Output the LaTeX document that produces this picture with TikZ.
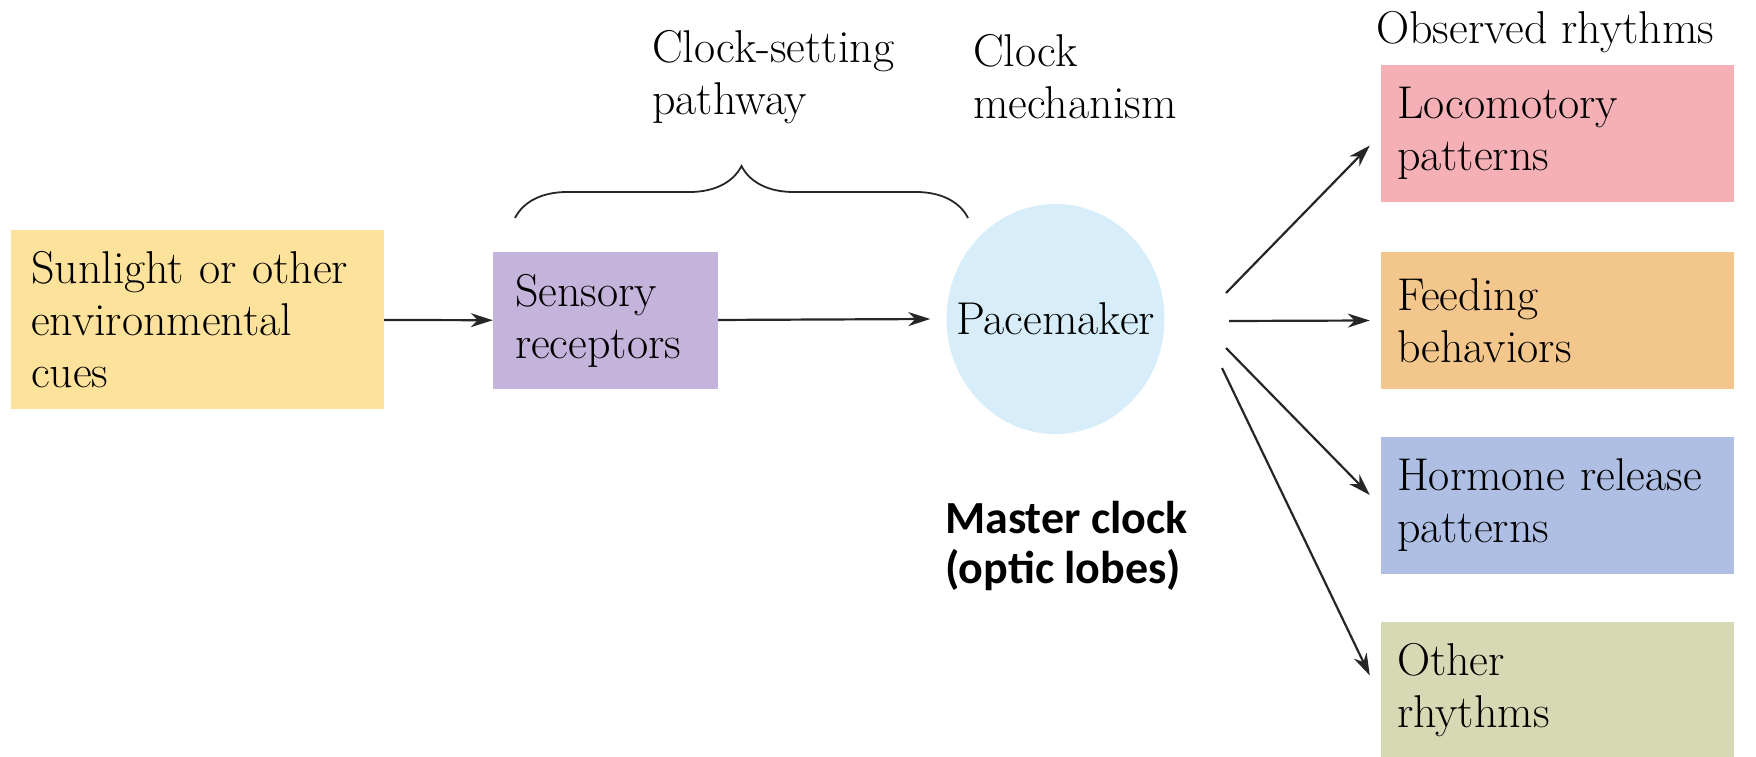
\documentclass[tikz,border=0pt]{standalone}
\usepackage{fontspec}
\newfontfamily\mcfont{Carlito}
\usetikzlibrary{arrows.meta,shapes.geometric,decorations.pathreplacing}
\definecolor{cueyel}{HTML}{FDE29C}
\definecolor{senpur}{HTML}{C4B3DA}
\definecolor{pacblu}{HTML}{D7EDFA}
\definecolor{rhypink}{HTML}{F5B0B6}
\definecolor{rhyora}{HTML}{F3C78C}
\definecolor{rhyblu}{HTML}{AFBEE3}
\definecolor{rhygrn}{HTML}{D6D9B3}

\tikzset{CRtxt/.style={inner sep=0pt,align=left,font=\fontsize{46}{52}\selectfont},
         CRbox/.style={CRtxt,rectangle,minimum height=137pt},
         CRrhy/.style={CRbox,minimum width=353pt,inner xsep=16pt,text width=321pt},
         CRarr/.style={line width=2.2pt,draw=black!85,-{Stealth[length=22pt,width=14pt,inset=7pt]}},
         CRbrace/.style={line width=1.8pt,draw=black!85,decorate,decoration={brace,amplitude=52pt}}}

\begin{document}
\begin{tikzpicture}[x=1pt,y=-1pt]
  \useasboundingbox (0,0) rectangle (1756,757);
  \node[CRbox,fill=cueyel,minimum width=373pt,minimum height=179pt,inner xsep=20pt,text width=333pt]
    (cues) at (197.5,319.5) {Sunlight or other\\environmental\\cues};
  \node[CRbox,fill=senpur,minimum width=225pt,inner xsep=22pt,text width=181pt]
    (sens) at (605.5,320.5) {Sensory\\receptors};
  \node[CRtxt,ellipse,fill=pacblu,inner xsep=-30pt,minimum width=218pt,minimum height=230pt]
    (pace) at (1055.5,319) {Pacemaker};
  \draw[CRarr] (cues) -- (sens);
  \draw[CRarr] (sens) -- ([xshift=-16pt]pace.west);
  % brace over the clock-setting pathway
  \coordinate (brL) at (515,218);
  \coordinate (brR) at (968,218);
  \draw[CRbrace] (brL) -- (brR);
  \node[CRtxt,anchor=west] (cset) at (652,77) {Clock-setting\\pathway};
  \node[CRtxt,anchor=west] (cmech) at (973,77) {Clock\\mechanism};
  \node[CRtxt,anchor=west] (obs) at (1376,32) {Observed rhythms};
  \node[inner sep=0pt,align=left,anchor=west,font=\mcfont\bfseries\fontsize{46}{50}\selectfont]
    (master) at (945,546) {Master clock\\(optic lobes)};
  % observed rhythms
  \foreach \n/\y/\c/\t in {loco/133.5/rhypink/{Locomotory\\patterns},
                           feed/320.5/rhyora/{Feeding\\behaviors},
                           horm/505/rhyblu/{Hormone release\\patterns},
                           othr/690.5/rhygrn/{Other\\rhythms}}
    \node[CRrhy,fill=\c] (\n) at (1557.5,\y) {\t};
  \coordinate (p1) at (1226,293);
  \coordinate (p2) at (1229,321);
  \coordinate (p3) at (1226,348);
  \coordinate (p4) at (1222,368);
  \foreach \s/\n/\dy in {p1/loco/-12,p2/feed/0,p3/horm/10,p4/othr/15}
    \draw[CRarr] (\s) -- ([xshift=-11pt,yshift=\dy pt]\n.west);
\end{tikzpicture}
\end{document}
